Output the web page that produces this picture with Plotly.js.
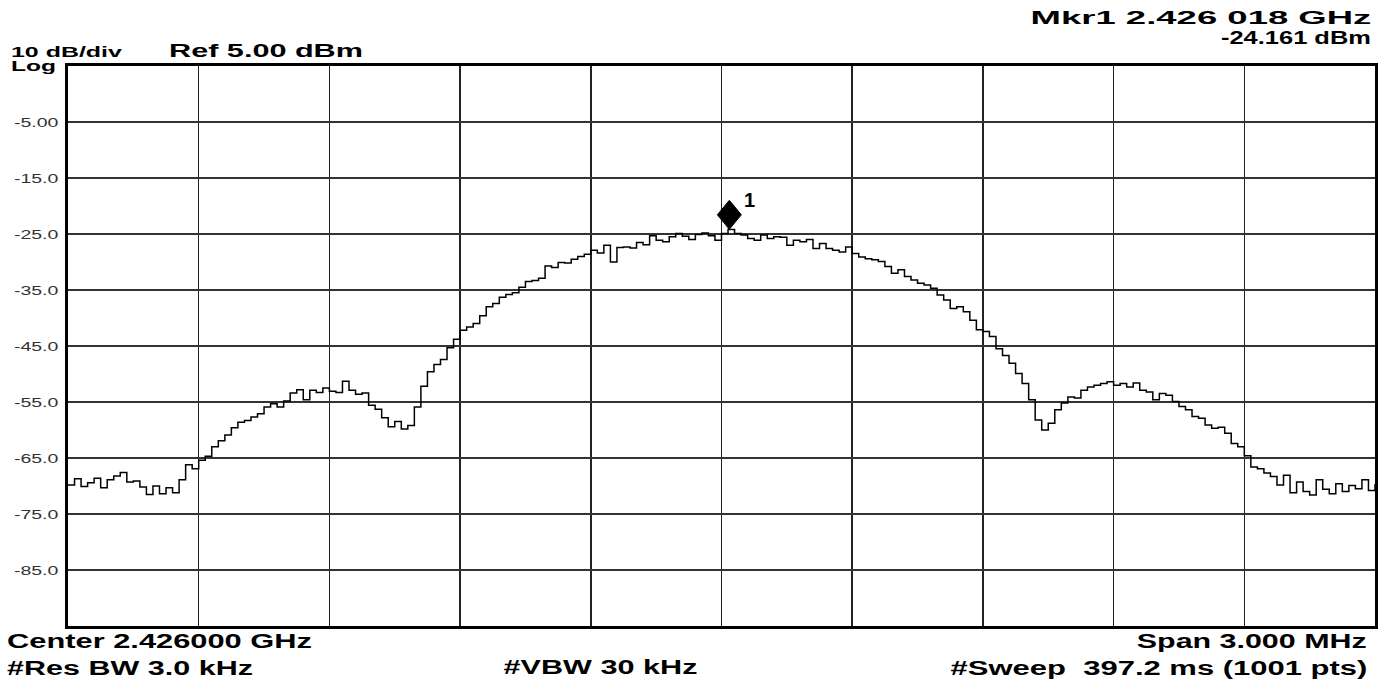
<!DOCTYPE html>
<html>
<head>
<meta charset="utf-8">
<script src="https://cdn.plot.ly/plotly-3.0.1.min.js"></script>
<style>
  html, body { margin: 0; padding: 0; background: #fff; }
  #chart { width: 1389px; height: 679px; }
</style>
</head>
<body>
<div id="chart"></div>
<script>
// ---- data ----
const freqOffsetKHz = [
  -1500,-1485,-1470,-1455,-1440,-1425,-1410,-1395,-1380,-1365,
  -1350,-1335,-1320,-1305,-1290,-1275,-1260,-1245,-1230,-1215,
  -1200,-1185,-1170,-1155,-1140,-1125,-1110,-1095,-1080,-1065,
  -1050,-1035,-1020,-1005,-990,-975,-960,-945,-930,-915,
  -900,-885,-870,-855,-840,-825,-810,-795,-780,-765,
  -750,-735,-720,-705,-690,-675,-660,-645,-630,-615,
  -600,-585,-570,-555,-540,-525,-510,-495,-480,-465,
  -450,-435,-420,-405,-390,-375,-360,-345,-330,-315,
  -300,-285,-270,-255,-240,-225,-210,-195,-180,-165,
  -150,-135,-120,-105,-90,-75,-60,-45,-30,-15,
  0,15,30,45,60,75,90,105,120,135,
  150,165,180,195,210,225,240,255,270,285,
  300,315,330,345,360,375,390,405,420,435,
  450,465,480,495,510,525,540,555,570,585,
  600,615,630,645,660,675,690,705,720,735,
  750,765,780,795,810,825,840,855,870,885,
  900,915,930,945,960,975,990,1005,1020,1035,
  1050,1065,1080,1095,1110,1125,1140,1155,1170,1185,
  1200,1215,1230,1245,1260,1275,1290,1305,1320,1335,
  1350,1365,1380,1395,1410,1425,1440,1455,1470,1485,
  1500
];
const levelDBm = [
  -69.8,-68.7,-70.1,-69.4,-68.6,-70.3,-68.9,-68.2,-67.6,-69.3,
  -69.1,-70.2,-71.5,-70.0,-71.4,-70.3,-71.2,-68.9,-66.2,-66.9,
  -65.4,-64.7,-63.0,-61.9,-60.9,-59.6,-58.6,-58.3,-57.7,-57.1,
  -55.9,-55.3,-55.9,-54.8,-53.4,-52.8,-54.6,-52.9,-53.3,-52.5,
  -53.1,-53.3,-51.3,-52.9,-53.6,-53.4,-55.6,-56.3,-57.8,-59.4,
  -58.5,-59.8,-59.2,-55.9,-52.2,-49.6,-48.3,-47.4,-45.3,-43.8,
  -42.2,-41.6,-41.0,-39.6,-38.0,-37.4,-36.3,-35.8,-35.5,-34.5,
  -33.5,-33.3,-32.9,-30.7,-31.0,-30.1,-30.2,-29.5,-29.0,-28.6,
  -27.9,-28.4,-27.0,-30.0,-27.4,-27.3,-27.5,-26.5,-26.9,-25.3,
  -26.1,-26.4,-25.5,-24.9,-25.4,-26.0,-25.1,-24.8,-25.3,-26.1,
  -24.9,-24.2,-24.9,-25.2,-25.8,-26.1,-25.2,-25.8,-25.5,-25.6,
  -27.0,-26.1,-26.4,-26.0,-27.6,-26.7,-27.6,-27.9,-28.2,-27.3,
  -28.5,-29.1,-29.4,-29.6,-29.9,-30.8,-32.0,-31.4,-32.6,-33.2,
  -33.8,-34.1,-34.7,-35.9,-36.8,-38.3,-38.0,-38.9,-40.4,-42.1,
  -42.4,-43.3,-45.5,-46.7,-48.1,-49.9,-51.7,-54.6,-58.2,-60.0,
  -58.8,-56.4,-55.2,-54.1,-54.3,-52.9,-52.3,-52.0,-51.7,-51.4,
  -52.0,-51.7,-52.3,-51.6,-52.9,-53.2,-54.6,-53.5,-53.8,-54.9,
  -55.8,-56.4,-57.6,-57.9,-59.1,-59.7,-59.5,-60.6,-62.4,-63.0,
  -64.6,-66.6,-66.9,-67.7,-68.3,-69.8,-68.1,-71.2,-69.3,-71.0,
  -71.6,-68.9,-70.6,-71.4,-69.6,-71.0,-69.9,-70.5,-68.9,-70.8,
  -69.7
];
const yTickVals = [-5, -15, -25, -35, -45, -55, -65, -75, -85];
const yTickText = ['-5.00', '-15.0', '-25.0', '-35.0', '-45.0', '-55.0', '-65.0', '-75.0', '-85.0'];
const xGridKHz = [-1200, -900, -600, -300, 0, 300, 600, 900, 1200];
const xRangeKHz = [-1500, 1500];
const yRangeDBm = [-95, 5];
const markerFreqKHz = 18;
const markerLevelDBm = -24.161;
const markerLabel = '1';
const headerTexts = ['10 dB/div', 'Log', 'Ref 5.00 dBm', 'Mkr1 2.426 018 GHz', '-24.161 dBm'];
const footerTexts = ['Center 2.426000 GHz', '#Res BW 3.0 kHz', '#VBW 30 kHz', 'Span 3.000 MHz', '#Sweep\u00a0\u00a0397.2 ms (1001 pts)'];

// ---- layout helpers (pixel placement -> paper coords) ----
const W = 1389, H = 679;
const M = { l: 68, r: 14, t: 66, b: 53 };
const PW = W - M.l - M.r, PH = H - M.t - M.b;
const px = x => (x - M.l) / PW;
const py = y => (H - M.b - y) / PH;
const FONT = 'Liberation Sans, Arial, sans-serif';

const stretchSpec = [];
function ann(text, x, y, anchor, size, targetW) {
  stretchSpec.push({ w: targetW, anchor: anchor });
  return {
    text: text, xref: 'paper', yref: 'paper', x: px(x), y: py(y),
    xanchor: anchor, yanchor: 'middle', showarrow: false, borderpad: 0,
    font: { family: FONT, size: size, color: '#000', weight: 'bold' }
  };
}

const annotations = [
  ann(headerTexts[0], 10, 51, 'left', 15, 112),
  ann(headerTexts[1], 10, 65, 'left', 15, 45),
  ann(headerTexts[2], 168, 50, 'left', 19, 194),
  ann(headerTexts[3], 1372, 17, 'right', 19, 341),
  ann(headerTexts[4], 1372, 38, 'right', 19, 150),
  ann(footerTexts[0], 6, 640, 'left', 21, 305),
  ann(footerTexts[1], 6, 667, 'left', 21, 246),
  ann(footerTexts[2], 600, 666, 'center', 21, 194),
  ann(footerTexts[3], 1368, 640, 'right', 21, 230),
  ann(footerTexts[4], 1369, 667, 'right', 21, 417)
];
annotations.push({
  text: markerLabel, xref: 'x', yref: 'y', x: markerFreqKHz, y: markerLevelDBm,
  xshift: 20, yshift: 29, showarrow: false,
  font: { family: FONT, size: 20, color: '#000', weight: 'bold' }
});
stretchSpec.push(null);

const trace = {
  x: freqOffsetKHz, y: levelDBm, type: 'scatter', mode: 'lines',
  line: { color: '#000', width: 1.5, shape: 'hv' }, hoverinfo: 'skip'
};

const layout = {
  width: W, height: H, margin: M, showlegend: false,
  paper_bgcolor: '#fff', plot_bgcolor: '#fff',
  xaxis: {
    range: xRangeKHz, tickmode: 'array', tickvals: xGridKHz, showticklabels: false,
    ticks: '', showgrid: true, gridcolor: '#222', gridwidth: 1.5, zeroline: false,
    showline: true, linecolor: '#000', linewidth: 3, mirror: true, fixedrange: true
  },
  yaxis: {
    range: yRangeDBm, tickmode: 'array', tickvals: yTickVals, ticktext: yTickText,
    ticks: '', showgrid: true, gridcolor: '#333', gridwidth: 1.5, zeroline: false,
    showline: true, linecolor: '#000', linewidth: 3, mirror: true, fixedrange: true,
    tickfont: { family: FONT, size: 13, color: '#333' }, ticklabelstandoff: 4
  },
  shapes: [{
    type: 'path', xref: 'x', yref: 'y', xsizemode: 'pixel', ysizemode: 'pixel',
    xanchor: markerFreqKHz, yanchor: markerLevelDBm,
    path: 'M0,0 L12,14.5 L0,29 L-12,14.5 Z',
    fillcolor: '#000', line: { color: '#000', width: 1 }
  }],
  annotations: annotations
};

function stretchText(t, scale, anchor) {
  const bb = t.getBBox();
  if (!bb.width) return;
  const ox = anchor === 'left' ? bb.x : anchor === 'right' ? bb.x + bb.width : bb.x + bb.width / 2;
  const tr = t.getAttribute('transform') || '';
  t.setAttribute('transform', tr + ' translate(' + ox + ',0) scale(' + scale + ',1) translate(' + (-ox) + ',0)');
}

Plotly.newPlot('chart', [trace], layout, { staticPlot: true, displayModeBar: false }).then(() => {
  document.querySelectorAll('g.annotation').forEach(g => {
    const i = +g.getAttribute('data-index');
    const spec = stretchSpec[i];
    if (!spec) return;
    const t = g.querySelector('text.annotation-text');
    if (!t) return;
    const bb = t.getBBox();
    if (!bb.width) return;
    stretchText(t, spec.w / bb.width, spec.anchor);
  });
  document.querySelectorAll('.ytick text').forEach(t => stretchText(t, 1.5, 'right'));
});
</script>
</body>
</html>
